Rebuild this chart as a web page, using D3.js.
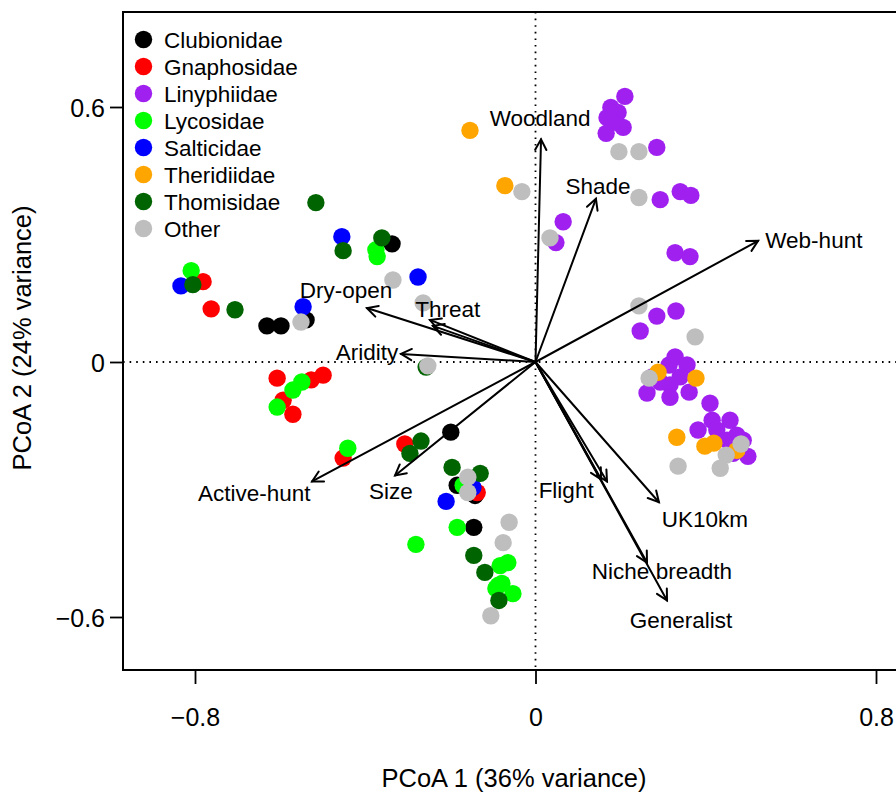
<!DOCTYPE html>
<html>
<head>
<meta charset="utf-8">
<script src="https://cdn.jsdelivr.net/npm/d3@7"></script>
<style>
  html, body { margin: 0; padding: 0; background: #fff; }
  svg { display: block; }
  text { font-family: "Liberation Sans", Arial, Helvetica, sans-serif; fill: #000; }
</style>
</head>
<body>
<div id="chart"></div>
<script>
// ---------------- DATA ----------------
const families = ["Clubionidae","Gnaphosidae","Linyphiidae","Lycosidae","Salticidae","Theridiidae","Thomisidae","Other"];
const familyColors = ["#000000","#FF0000","#A020F0","#00FF00","#0000FF","#FFA500","#006400","#BEBEBE"];

const clubionidae = [[-0.337,0.278],[-0.631,0.085],[-0.598,0.085],[-0.539,0.099],[-0.199,-0.165],[-0.184,-0.290],[-0.142,-0.314],[-0.145,-0.389]];
const gnaphosidae = [[-0.781,0.189],[-0.762,0.125],[-0.607,-0.038],[-0.527,-0.042],[-0.499,-0.031],[-0.593,-0.090],[-0.570,-0.123],[-0.452,-0.226],[-0.307,-0.193],[-0.137,-0.307]];
const linyphiidae = [[0.210,0.625],[0.177,0.599],[0.194,0.587],[0.168,0.575],[0.206,0.552],[0.166,0.538],[0.182,0.564],[0.285,0.505],[0.293,0.382],[0.340,0.401],[0.365,0.392],[0.065,0.330],[0.048,0.281],[0.328,0.257],[0.363,0.248],[0.285,0.108],[0.330,0.120],[0.246,0.073],[0.328,0.012],[0.314,-0.007],[0.356,-0.007],[0.340,-0.035],[0.274,-0.035],[0.316,-0.054],[0.262,-0.073],[0.316,-0.083],[0.361,-0.071],[0.293,-0.047],[0.410,-0.097],[0.415,-0.137],[0.457,-0.137],[0.382,-0.160],[0.426,-0.160],[0.473,-0.172],[0.450,-0.184],[0.488,-0.184],[0.464,-0.215],[0.499,-0.222]];
const lycosidae = [[-0.809,0.215],[-0.375,0.264],[-0.372,0.248],[-0.549,-0.047],[-0.570,-0.066],[-0.607,-0.106],[-0.441,-0.203],[-0.170,-0.290],[-0.184,-0.389],[-0.281,-0.429],[-0.083,-0.479],[-0.065,-0.472],[-0.088,-0.526],[-0.093,-0.533],[-0.079,-0.521],[-0.053,-0.545]];
const salticidae = [[-0.833,0.179],[-0.455,0.295],[-0.276,0.200],[-0.546,0.130],[-0.147,-0.295],[-0.210,-0.328]];
const theridiidae = [[-0.154,0.545],[-0.072,0.415],[0.288,-0.024],[0.377,-0.038],[0.332,-0.177],[0.398,-0.198],[0.419,-0.191],[0.473,-0.208]];
const thomisidae = [[-0.516,0.375],[-0.452,0.262],[-0.361,0.292],[-0.805,0.182],[-0.706,0.123],[-0.257,-0.012],[-0.269,-0.186],[-0.295,-0.215],[-0.196,-0.248],[-0.130,-0.262],[-0.145,-0.455],[-0.119,-0.495],[-0.086,-0.561]];
const other = [[-0.335,0.193],[-0.264,0.139],[-0.551,0.094],[-0.253,-0.009],[-0.032,0.401],[0.034,0.292],[0.196,0.495],[0.243,0.495],[0.243,0.387],[0.243,0.132],[0.375,0.059],[0.267,-0.038],[0.483,-0.193],[0.448,-0.219],[0.434,-0.250],[0.335,-0.245],[-0.159,-0.271],[-0.159,-0.307],[-0.062,-0.377],[-0.076,-0.425],[-0.105,-0.597]];
const seriesValues = [clubionidae, gnaphosidae, linyphiidae, lycosidae, salticidae, theridiidae, thomisidae, other];

// trait vectors: name, tip (x,y), label anchor (x,y)
const vectorNames  = ["Woodland","Shade","Web-hunt","Threat","","Dry-open","Aridity","Active-hunt","Size","Flight","","UK10km","Niche breadth","Generalist"];
const vectorTips   = [[0.013,0.524],[0.142,0.384],[0.523,0.285],[-0.248,0.099],[-0.241,0.085],[-0.396,0.127],[-0.316,0.019],[-0.525,-0.281],[-0.330,-0.267],[0.168,-0.281],[0.154,-0.276],[0.290,-0.330],[0.262,-0.472],[0.309,-0.561]];
const vectorLabels = [[0.011,0.575],[0.147,0.415],[0.654,0.288],[-0.206,0.125],null,[-0.445,0.170],[-0.396,0.024],[-0.661,-0.309],[-0.340,-0.304],[0.072,-0.300],null,[0.398,-0.368],[0.297,-0.491],[0.342,-0.606]];

const xTicks = [-0.8, 0, 0.8];
const yTicks = [-0.6, 0, 0.6];
const xTitle = "PCoA 1 (36% variance)";
const yTitle = "PCoA 2 (24% variance)";

// ---------------- DRAW ----------------
const W = 896, H = 792;
const box = {left: 123, top: 12, right: 960, bottom: 670};

const svg = d3.select("#chart").append("svg").attr("width", W).attr("height", H);

const x = d3.scaleLinear().domain([-0.8, 0.8]).range([195, 876]);
const y = d3.scaleLinear().domain([-0.6, 0.6]).range([617, 107]);

const fmt = v => v === 0 ? "0" : (v < 0 ? "\u2212" + Math.abs(v).toFixed(1) : v.toFixed(1));

// axes
const xAxis = d3.axisBottom(x).tickValues(xTicks).tickFormat(fmt).tickSizeOuter(0).tickSize(14).tickPadding(24);
const gx = svg.append("g").attr("transform", `translate(0,${box.bottom})`).call(xAxis);
gx.select(".domain").remove();
gx.selectAll("line").attr("stroke", "#000").attr("stroke-width", 1.8);
gx.selectAll("text").attr("font-size", 25).attr("font-family", '"Liberation Sans", Arial, sans-serif').attr("fill", "#000");

const yAxis = d3.axisLeft(y).tickValues(yTicks).tickFormat(fmt).tickSizeOuter(0).tickSize(13).tickPadding(5);
const gy = svg.append("g").attr("transform", `translate(${box.left},0)`).call(yAxis);
gy.select(".domain").remove();
gy.selectAll("line").attr("stroke", "#000").attr("stroke-width", 1.8);
gy.selectAll("text").attr("font-size", 25).attr("font-family", '"Liberation Sans", Arial, sans-serif').attr("fill", "#000").attr("dy", "0.36em");

// axis titles
svg.append("text").attr("x", 514).attr("y", 787).attr("text-anchor", "middle").attr("font-size", 25.5).text(xTitle);
svg.append("text").attr("transform", `translate(31,338) rotate(-90)`).attr("text-anchor", "middle").attr("font-size", 25.5).text(yTitle);

// clip for plot region
svg.append("clipPath").attr("id", "plotclip").append("rect")
  .attr("x", box.left).attr("y", box.top).attr("width", box.right - box.left).attr("height", box.bottom - box.top);
const plot = svg.append("g").attr("clip-path", "url(#plotclip)");

// dotted zero lines
plot.append("line").attr("x1", box.left).attr("x2", box.right).attr("y1", y(0)).attr("y2", y(0))
  .attr("stroke", "#000").attr("stroke-width", 1.8).attr("stroke-dasharray", "1.6,5").attr("stroke-linecap", "butt");
plot.append("line").attr("x1", x(0)).attr("x2", x(0)).attr("y1", box.top).attr("y2", box.bottom)
  .attr("stroke", "#000").attr("stroke-width", 1.8).attr("stroke-dasharray", "1.6,5").attr("stroke-linecap", "butt");

// points
seriesValues.forEach((pts, i) => {
  plot.append("g").selectAll("circle").data(pts).join("circle")
    .attr("cx", d => x(d[0])).attr("cy", d => y(d[1])).attr("r", 8.7)
    .attr("fill", familyColors[i]);
});

// arrows
const ag = plot.append("g").attr("stroke", "#000").attr("stroke-width", 2).attr("fill", "none").attr("stroke-linecap", "round");
const headLen = 12, headAng = 28 * Math.PI / 180;
vectorTips.forEach(t => {
  const x0 = x(0), y0 = y(0), x1 = x(t[0]), y1 = y(t[1]);
  ag.append("line").attr("x1", x0).attr("y1", y0).attr("x2", x1).attr("y2", y1);
  const a = Math.atan2(y1 - y0, x1 - x0);
  const p1 = [x1 - headLen * Math.cos(a - headAng), y1 - headLen * Math.sin(a - headAng)];
  const p2 = [x1 - headLen * Math.cos(a + headAng), y1 - headLen * Math.sin(a + headAng)];
  ag.append("path").attr("d", `M${p1[0]},${p1[1]}L${x1},${y1}L${p2[0]},${p2[1]}`).attr("stroke-linejoin", "miter");
});
vectorNames.forEach((n, i) => {
  if (!n || !vectorLabels[i]) return;
  plot.append("text").attr("x", x(vectorLabels[i][0])).attr("y", y(vectorLabels[i][1]))
    .attr("dy", "0.36em").attr("text-anchor", "middle").attr("font-size", 22.5).text(n);
});

// box
svg.append("rect").attr("x", box.left).attr("y", box.top).attr("width", box.right - box.left).attr("height", box.bottom - box.top)
  .attr("fill", "none").attr("stroke", "#000").attr("stroke-width", 2);

// legend
const lg = svg.append("g");
families.forEach((f, i) => {
  const yy = 39.5 + i * 27;
  lg.append("circle").attr("cx", 143.5).attr("cy", yy).attr("r", 8.7).attr("fill", familyColors[i]);
  lg.append("text").attr("x", 164).attr("y", yy).attr("dy", "0.36em").attr("font-size", 22.5).text(f);
});
</script>
</body>
</html>
